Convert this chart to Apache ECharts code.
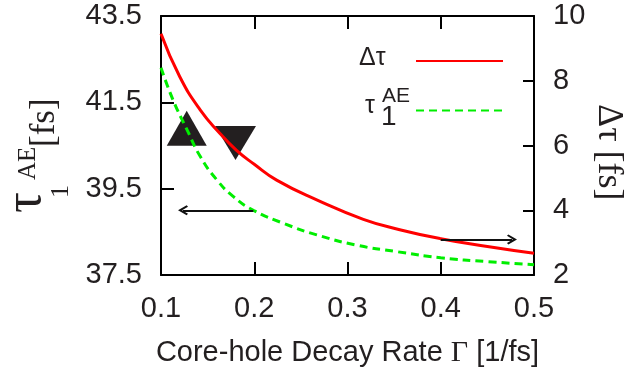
<!DOCTYPE html>
<html>
<head>
<meta charset="utf-8">
<script src="https://cdn.jsdelivr.net/npm/echarts@6/dist/echarts.min.js"></script>
<style>
  html, body { margin: 0; padding: 0; background: #fff; }
  #chart { width: 643px; height: 368px; }
</style>
</head>
<body>
<div id="chart"></div>
<script>
// data
const gammaRed = [0.1, 0.12, 0.142, 0.163, 0.181, 0.2, 0.224, 0.267, 0.317, 0.356, 0.4, 0.45, 0.5];
const deltaTau = [9.45, 8.13, 7.10, 6.38, 5.85, 5.42, 4.93, 4.32, 3.72, 3.40, 3.12, 2.88, 2.67];

const gammaGreen = [0.1, 0.113, 0.128, 0.142, 0.16, 0.178, 0.199, 0.231, 0.267, 0.31, 0.353, 0.4, 0.45, 0.5];
const tauAE = [42.3, 41.55, 40.86, 40.25, 39.70, 39.31, 39.0, 38.70, 38.43, 38.19, 38.04, 37.90, 37.81, 37.74];

const upMarker = [[0.1276, 40.90]];
const downMarker = [[0.1799, 40.56]];

const arrowLeft = [[0.199, 39.0], [0.1236, 39.0]];   // points to left axis
const arrowRight = [[0.4, 3.1], [0.4764, 3.1]];      // points to right axis

const xTicks = { min: 0.1, max: 0.5, interval: 0.1 };
const leftTicks = { min: 37.5, max: 43.5, interval: 2 };
const rightTicks = { min: 2, max: 10, interval: 2 };

function pairs(xs, ys) {
    return xs.map((x, i) => [x, ys[i]]);
}

const TEXT = '#231f20';
const SANS = 'Liberation Sans';
const SERIF = 'Liberation Serif';
const chevron = 'path://M5,0 L10,9 L8.6,10.4 L5,4.2 L1.4,10.4 L0,9 Z';

const frameLine = { show: true, onZero: false, lineStyle: { color: '#000', width: 2 } };
const inTick = { show: true, inside: true, length: 13, lineStyle: { color: '#000', width: 2 } };

const chart = echarts.init(document.getElementById('chart'));

const option = {
    animation: false,
    grid: { left: 161, right: 109, top: 16, bottom: 93, containLabel: false, outerBoundsMode: 'none' },
    legend: {
        orient: 'vertical',
        left: 410,
        top: 49,
        itemWidth: 87,
        itemHeight: 14,
        itemGap: 37,
        data: ['Δτ', 'τ1AE'],
        formatter: () => '',
        itemStyle: { color: 'transparent', borderColor: 'transparent', borderWidth: 0 },
        selectedMode: false
    },
    xAxis: [{
        type: 'value',
        position: 'bottom',
        min: xTicks.min, max: xTicks.max, interval: xTicks.interval,
        axisLine: frameLine,
        axisTick: inTick,
        splitLine: { show: false },
        axisLabel: {
            fontSize: 29, color: TEXT, fontFamily: SANS, margin: 19,
            formatter: v => v.toFixed(1)
        },
        name: 'Core-hole Decay Rate {g|Γ} [1/fs]',
        nameLocation: 'middle',
        nameGap: 63,
        nameTextStyle: {
            fontSize: 29, color: TEXT, fontFamily: SANS,
            rich: { g: { fontSize: 30, color: TEXT, fontFamily: SERIF } }
        }
    }, {
        type: 'value',
        position: 'top',
        min: xTicks.min, max: xTicks.max, interval: xTicks.interval,
        axisLine: frameLine,
        axisTick: inTick,
        splitLine: { show: false },
        axisLabel: { show: false }
    }],
    yAxis: [{
        type: 'value',
        position: 'left',
        min: leftTicks.min, max: leftTicks.max, interval: leftTicks.interval,
        axisLine: frameLine,
        axisTick: inTick,
        splitLine: { show: false },
        axisLabel: {
            fontSize: 29, color: TEXT, fontFamily: SANS, margin: 19,
            formatter: v => v.toFixed(1)
        }
    }, {
        type: 'value',
        position: 'right',
        min: rightTicks.min, max: rightTicks.max, interval: rightTicks.interval,
        axisLine: frameLine,
        axisTick: { show: true, inside: true, length: 11, lineStyle: { color: '#000', width: 2 } },
        splitLine: { show: false },
        axisLabel: { fontSize: 29, color: TEXT, fontFamily: SANS, margin: 19 }
    }],
    series: [{
        name: 'up',
        type: 'scatter',
        yAxisIndex: 0,
        z: 1,
        symbol: 'triangle',
        symbolSize: [40, 35],
        itemStyle: { color: TEXT, opacity: 1 },
        data: upMarker
    }, {
        name: 'down',
        type: 'scatter',
        yAxisIndex: 0,
        z: 1,
        symbol: 'triangle',
        symbolRotate: 180,
        symbolSize: [41, 34],
        itemStyle: { color: TEXT, opacity: 1 },
        data: downMarker
    }, {
        name: 'Δτ',
        type: 'line',
        yAxisIndex: 1,
        smooth: true,
        symbol: 'none',
        lineStyle: { color: '#ff0000', width: 3 },
        itemStyle: { color: '#ff0000' },
        data: pairs(gammaRed, deltaTau),
        markLine: {
            silent: true,
            symbol: ['none', chevron],
            symbolSize: [10, 10],
            lineStyle: { color: '#111', width: 2, type: 'solid' },
            label: { show: false },
            data: [[{ coord: arrowRight[0] }, { coord: arrowRight[1] }]]
        }
    }, {
        name: 'τ1AE',
        type: 'line',
        yAxisIndex: 0,
        smooth: true,
        symbol: 'none',
        lineStyle: { color: '#00ee00', width: 3, type: [8, 5] },
        itemStyle: { color: '#00ee00' },
        data: pairs(gammaGreen, tauAE),
        markLine: {
            silent: true,
            symbol: ['none', chevron],
            symbolSize: [10, 10],
            lineStyle: { color: '#111', width: 2, type: 'solid' },
            label: { show: false },
            data: [[{ coord: arrowLeft[0] }, { coord: arrowLeft[1] }]]
        }
    }],
    graphic: [
        // left axis title: tau_1^AE [fs], reading upward
        { type: 'text', x: 26, y: 213, rotation: Math.PI / 2,
          style: { text: 'τ', font: '52px "Liberation Serif"', fill: TEXT, align: 'left', verticalAlign: 'middle' } },
        { type: 'text', x: 61, y: 198, rotation: Math.PI / 2,
          style: { text: '1', font: '26px "Liberation Serif"', fill: TEXT, align: 'left', verticalAlign: 'middle' } },
        { type: 'text', x: 28, y: 180, rotation: Math.PI / 2,
          style: { text: 'AE', font: '25px "Liberation Serif"', fill: TEXT, align: 'left', verticalAlign: 'middle' } },
        { type: 'text', x: 45, y: 147, rotation: Math.PI / 2,
          style: { text: '[fs]', font: '35px "Liberation Serif"', fill: TEXT, align: 'left', verticalAlign: 'middle' } },
        // right axis title: Δτ [fs], reading downward
        { type: 'text', x: 608, y: 104, rotation: -Math.PI / 2,
          style: { text: 'Δτ [fs]', font: '36px "Liberation Serif"', fill: TEXT, align: 'left', verticalAlign: 'middle' } },
        // legend labels
        { type: 'text', x: 359, y: 58,
          style: { text: 'Δτ', font: '25px "Liberation Sans"', fill: TEXT, align: 'left', verticalAlign: 'middle' } },
        { type: 'text', x: 365, y: 106,
          style: { text: 'τ', font: '25px "Liberation Sans"', fill: TEXT, align: 'left', verticalAlign: 'middle' } },
        { type: 'text', x: 381, y: 117,
          style: { text: '1', font: '28px "Liberation Sans"', fill: TEXT, align: 'left', verticalAlign: 'middle' } },
        { type: 'text', x: 382, y: 96,
          style: { text: 'AE', font: '21px "Liberation Sans"', fill: TEXT, align: 'left', verticalAlign: 'middle' } }
    ]
};

chart.setOption(option);
</script>
</body>
</html>
